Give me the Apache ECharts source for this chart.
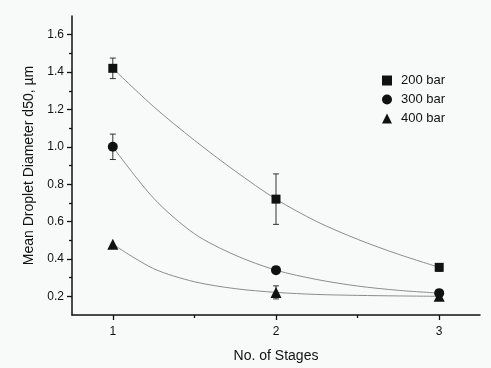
<!DOCTYPE html>
<html>
<head>
<meta charset="utf-8">
<script src="https://cdn.jsdelivr.net/npm/echarts@6/dist/echarts.min.js"></script>
<style>
  html, body { margin: 0; padding: 0; background: #f8fafa; }
  #chart { width: 491px; height: 368px; }
</style>
</head>
<body>
<div id="chart"></div>
<script>
// Measured droplet size (d50, µm) per number of homogenising stages
const stages = [1, 2, 3];
const d50_200 = [1.42, 0.72, 0.355];
const d50_300 = [1.0, 0.34, 0.217];
const d50_400 = [0.479, 0.221, 0.2];
// Error bar half-widths
const err_200 = [0.055, 0.135, 0.02];
const err_300 = [0.068, 0.0, 0.0];
const err_400 = [0.0, 0.035, 0.0];

// Fitted decay curves, sampled along the stage axis
const fitX = [1, 1.25, 1.5, 1.75, 2, 2.25, 2.5, 2.75, 3];
const fit_200 = [1.42, 1.215, 1.035, 0.87, 0.72, 0.6, 0.505, 0.425, 0.355];
const fit_300 = [1.0, 0.725, 0.535, 0.42, 0.34, 0.29, 0.255, 0.232, 0.217];
const fit_400 = [0.479, 0.348, 0.278, 0.241, 0.221, 0.21, 0.205, 0.202, 0.2];

// Axis ticks
const xMajor = [1, 2, 3];
const xMinor = [1.5, 2.5];
const yMajor = [0.2, 0.4, 0.6, 0.8, 1.0, 1.2, 1.4, 1.6];
const yMinor = [0.3, 0.5, 0.7, 0.9, 1.1, 1.3, 1.5];

const seriesNames = ['200 bar', '300 bar', '400 bar'];

const pairs = (xs, ys) => xs.map((x, i) => [x, ys[i]]);
const errRows = (ys, es) => stages.map((x, i) => [x, ys[i] - es[i], ys[i] + es[i]]).filter((r, i) => es[i] > 0);

const ink = '#111111';
const font = 'Liberation Sans, Arial, sans-serif';

function errorBar(params, api) {
  const x = api.value(0);
  const lo = api.coord([x, api.value(1)]);
  const hi = api.coord([x, api.value(2)]);
  const cap = 3;
  const st = { stroke: '#333', lineWidth: 1 };
  return {
    type: 'group',
    children: [
      { type: 'line', shape: { x1: lo[0], y1: lo[1], x2: hi[0], y2: hi[1] }, style: st },
      { type: 'line', shape: { x1: lo[0] - cap, y1: lo[1], x2: lo[0] + cap, y2: lo[1] }, style: st },
      { type: 'line', shape: { x1: hi[0] - cap, y1: hi[1], x2: hi[0] + cap, y2: hi[1] }, style: st }
    ]
  };
}

const fitLine = (data) => ({
  type: 'line', data, xAxisIndex: 0, yAxisIndex: 0,
  showSymbol: false, smooth: 0.3, silent: true,
  lineStyle: { color: '#8c8c8c', width: 1 }, z: 1
});

const errSeries = (data) => ({
  type: 'custom', data, renderItem: errorBar, xAxisIndex: 0, yAxisIndex: 0, silent: true, z: 2
});

const pointSeries = (name, symbol, size, data) => ({
  name, type: 'scatter', data, symbol, symbolSize: size,
  itemStyle: { color: ink, opacity: 1 }, xAxisIndex: 0, yAxisIndex: 0, z: 3
});

const chart = echarts.init(document.getElementById('chart'), null, { renderer: 'canvas' });
chart.setOption({
  backgroundColor: '#f8fafa',
  animation: false,
  grid: { left: 72, right: 11, top: 16, bottom: 51 },
  legend: {
    data: [
      { name: seriesNames[0], icon: 'rect', itemStyle: { opacity: 1 } },
      { name: seriesNames[1], icon: 'circle', itemStyle: { opacity: 1 } },
      { name: seriesNames[2], icon: 'triangle', itemStyle: { opacity: 1 } }
    ],
    orient: 'vertical', left: 377, top: 69,
    itemWidth: 10, itemHeight: 10, itemGap: 6,
    textStyle: { fontFamily: font, fontSize: 13, color: ink, padding: [0, 0, 0, 4] }
  },
  xAxis: [
    {
      type: 'value', min: 0.75, max: 3.25,
      name: 'No. of Stages', nameLocation: 'middle', nameGap: 34,
      nameTextStyle: { fontFamily: font, fontSize: 14, color: ink },
      axisLine: { show: true, lineStyle: { color: ink, width: 1.5 } },
      axisTick: { show: true, customValues: xMajor, length: 5, lineStyle: { color: ink, width: 1.3 } },
      axisLabel: { customValues: xMajor, fontFamily: font, fontSize: 12, color: ink, margin: 11 },
      splitLine: { show: false }
    },
    {
      type: 'value', min: 0.75, max: 3.25, position: 'bottom', gridIndex: 0,
      axisLine: { show: false },
      axisTick: { show: true, customValues: xMinor, length: 3, lineStyle: { color: ink, width: 1.3 } },
      axisLabel: { show: false },
      splitLine: { show: false }
    }
  ],
  yAxis: [
    {
      type: 'value', min: 0.1, max: 1.7,
      name: 'Mean Droplet Diameter d50, µm', nameLocation: 'middle', nameGap: 34,
      nameTextStyle: { fontFamily: font, fontSize: 14, color: ink },
      axisLine: { show: true, lineStyle: { color: ink, width: 1.5 } },
      axisTick: { show: true, customValues: yMajor, length: 5, lineStyle: { color: ink, width: 1.3 } },
      axisLabel: {
        customValues: yMajor, fontFamily: font, fontSize: 12, color: ink, margin: 8,
        formatter: (v) => v.toFixed(1)
      },
      splitLine: { show: false }
    },
    {
      type: 'value', min: 0.1, max: 1.7, position: 'left', gridIndex: 0,
      axisLine: { show: false },
      axisTick: { show: true, customValues: yMinor, length: 3, lineStyle: { color: ink, width: 1.3 } },
      axisLabel: { show: false },
      splitLine: { show: false }
    }
  ],
  series: [
    fitLine(pairs(fitX, fit_200)),
    fitLine(pairs(fitX, fit_300)),
    fitLine(pairs(fitX, fit_400)),
    errSeries(errRows(d50_200, err_200)),
    errSeries(errRows(d50_300, err_300)),
    errSeries(errRows(d50_400, err_400)),
    pointSeries(seriesNames[0], 'rect', 9, pairs(stages, d50_200)),
    pointSeries(seriesNames[1], 'circle', 10, pairs(stages, d50_300)),
    pointSeries(seriesNames[2], 'triangle', 11, pairs(stages, d50_400))
  ]
});
</script>
</body>
</html>
